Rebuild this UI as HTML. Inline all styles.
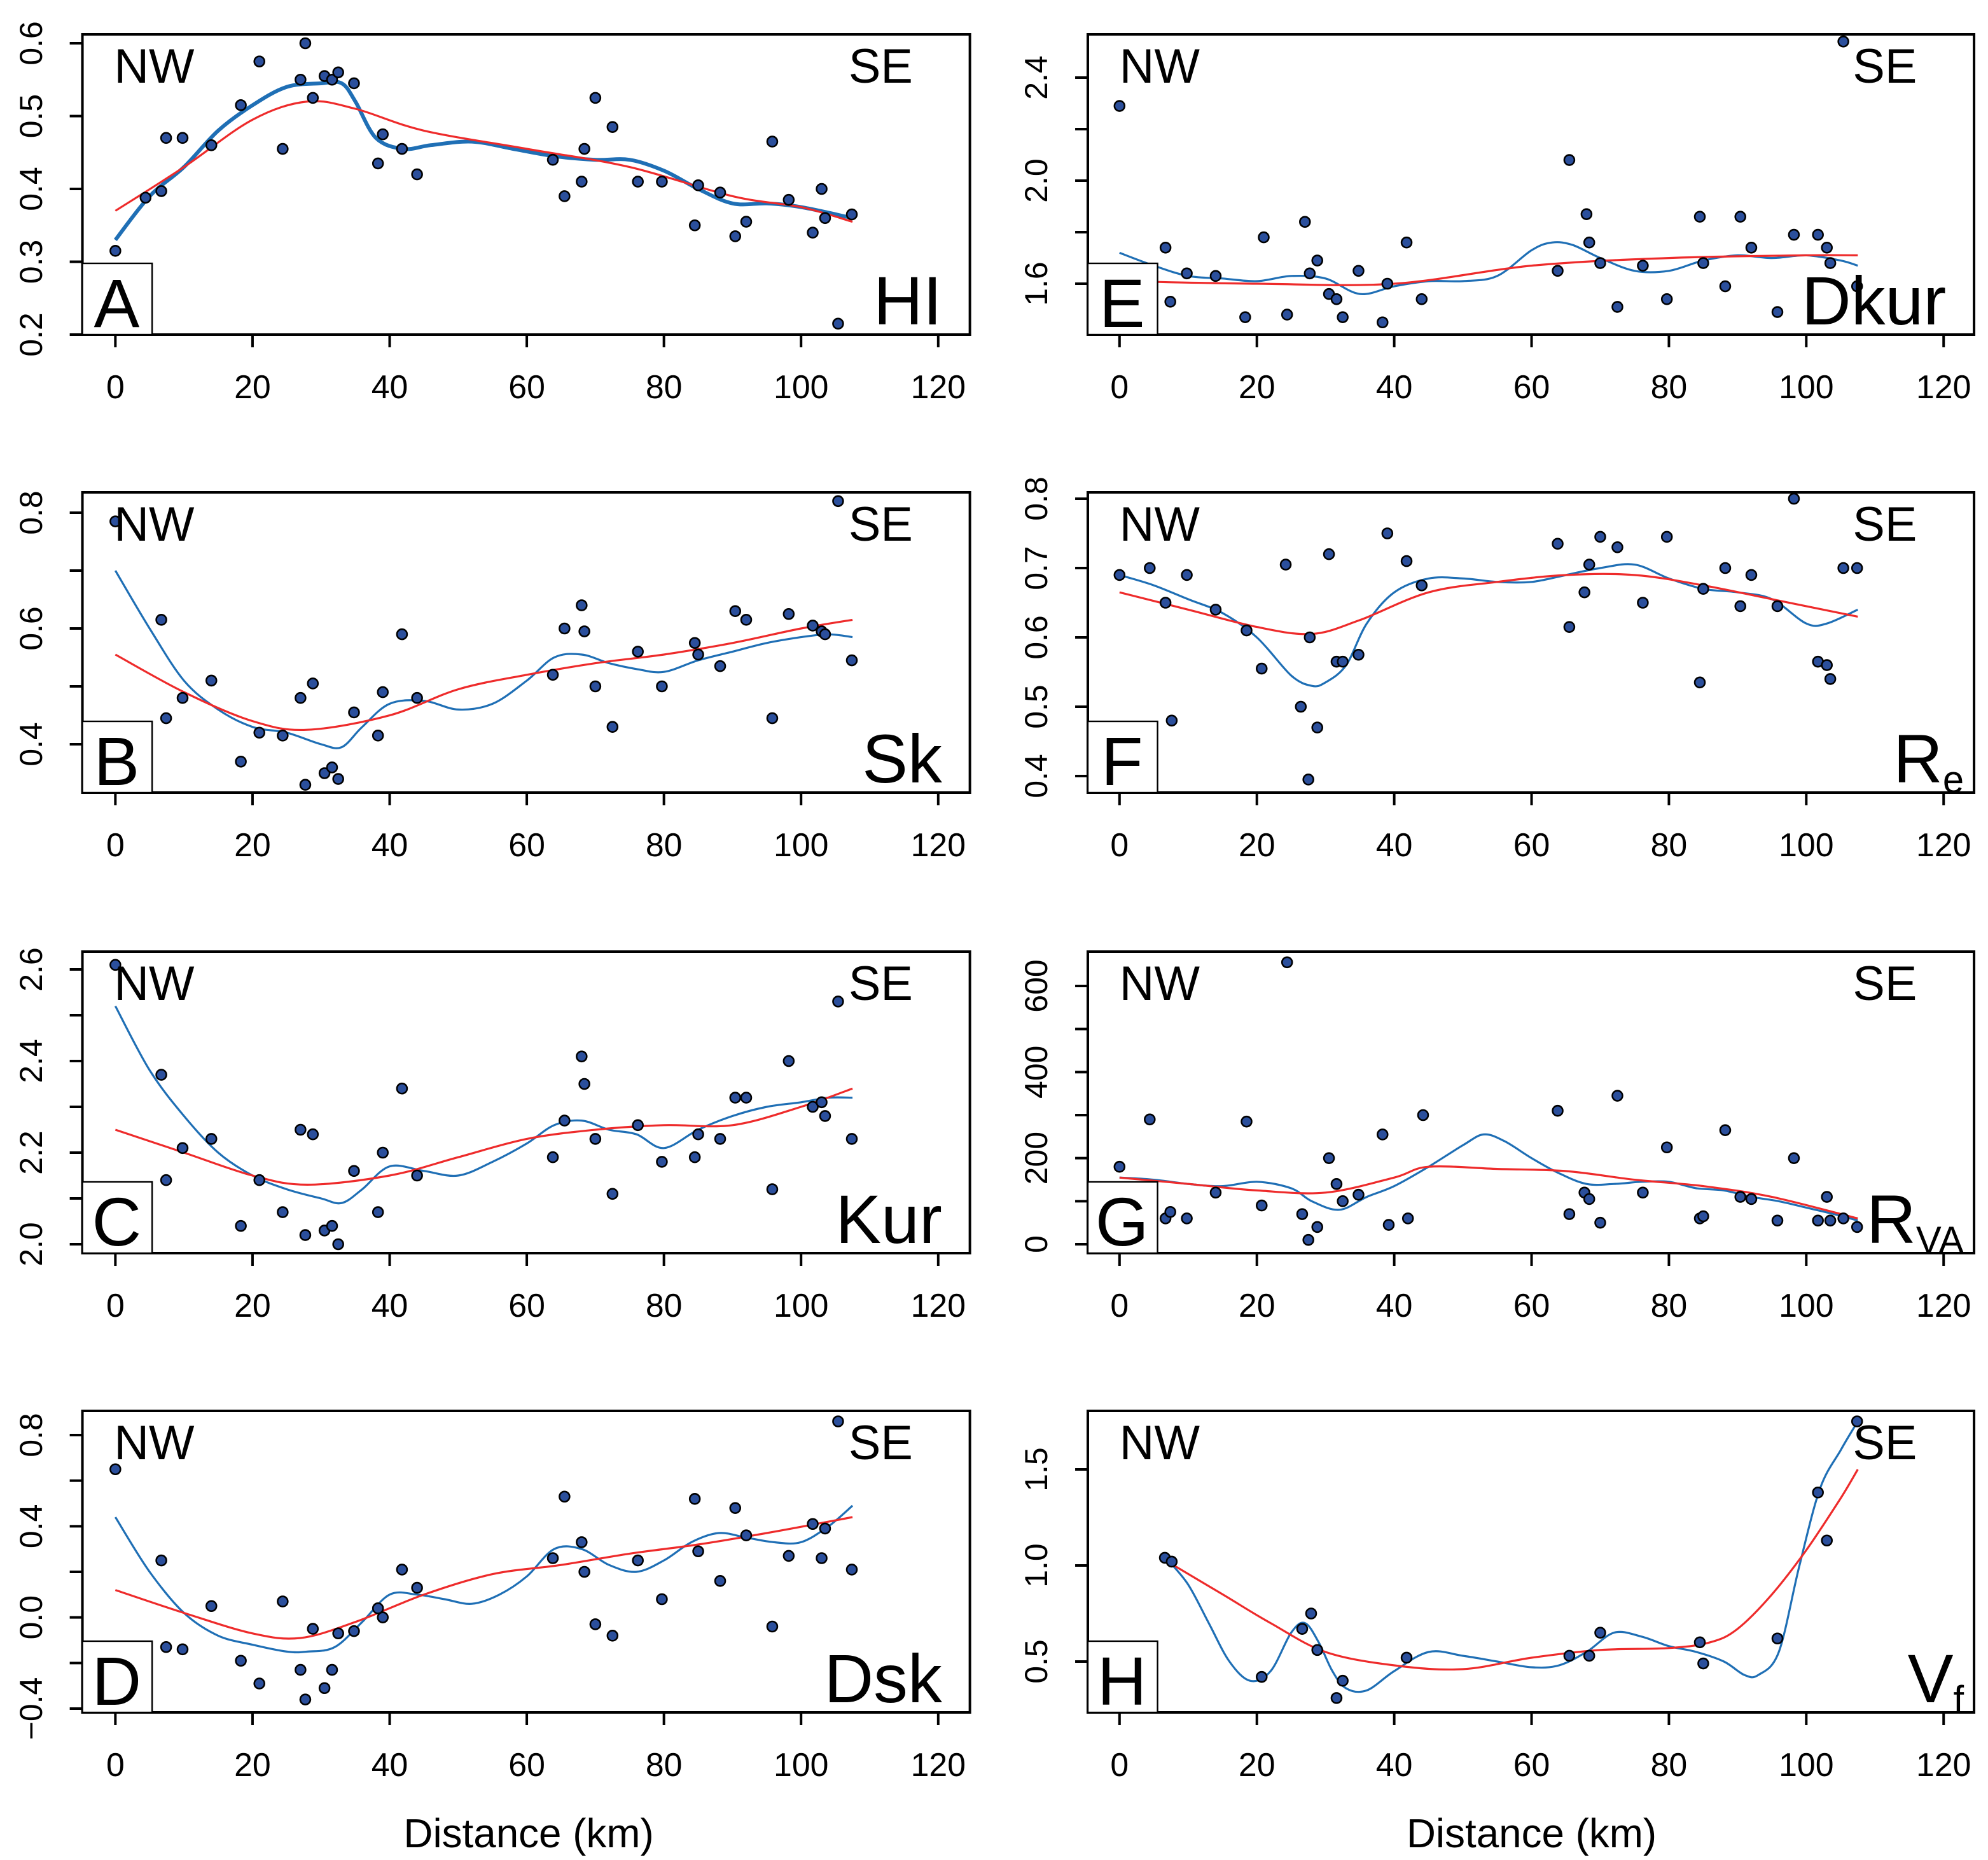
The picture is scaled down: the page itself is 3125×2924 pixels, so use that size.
<!DOCTYPE html>
<html><head><meta charset="utf-8"><style>
html,body{margin:0;padding:0;background:#fff;}
svg{display:block;}
text{font-family:"Liberation Sans",Arial,sans-serif;fill:#000;}
</style></head><body>
<svg id="fig" width="3125" height="2924" viewBox="0 0 1568 1462" preserveAspectRatio="none" xmlns="http://www.w3.org/2000/svg"></svg>
<script>
// ---- data ----
const panelIds=["A","B","C","D","E","F","G","H"];
const panelVars=["HI","Sk","Kur","Dsk","Dkur","Re","RVA","Vf"];
const xTicks=[0,20,40,60,80,100,120];
const xTickLabels=["0","20","40","60","80","100","120"];
const ptsA_x=[0,4.4,6.7,7.4,9.8,14,18.3,21,24.4,27,27.7,28.8,30.5,31.6,32.5,34.8,38.3,39,41.8,44,63.8,65.5,68,68.4,70,72.5,76.2,79.7,84.5,85,88.2,90.4,92,95.8,98.2,101.7,103,103.5,105.4,107.4];
const ptsA_y=[0.315,0.388,0.397,0.47,0.47,0.46,0.515,0.575,0.455,0.55,0.6,0.525,0.555,0.55,0.56,0.545,0.435,0.475,0.455,0.42,0.44,0.39,0.41,0.455,0.525,0.485,0.41,0.41,0.35,0.405,0.395,0.335,0.355,0.465,0.385,0.34,0.4,0.36,0.215,0.365];
const ptsB_y=[0.785,0.41,0.615,0.445,0.48,0.51,0.37,0.42,0.415,0.48,0.33,0.505,0.35,0.36,0.34,0.455,0.415,0.49,0.59,0.48,0.52,0.6,0.64,0.595,0.5,0.43,0.56,0.5,0.575,0.555,0.535,0.63,0.615,0.445,0.625,0.605,0.595,0.59,0.82,0.545];
const ptsC_y=[2.61,2.09,2.37,2.14,2.21,2.23,2.04,2.14,2.07,2.25,2.02,2.24,2.03,2.04,2.0,2.16,2.07,2.2,2.34,2.15,2.19,2.27,2.41,2.35,2.23,2.11,2.26,2.18,2.19,2.24,2.23,2.32,2.32,2.12,2.4,2.3,2.31,2.28,2.53,2.23];
const ptsD_y=[0.65,-0.2,0.25,-0.13,-0.14,0.05,-0.19,-0.29,0.07,-0.23,-0.36,-0.05,-0.31,-0.23,-0.07,-0.06,0.04,0.0,0.21,0.13,0.26,0.53,0.33,0.2,-0.03,-0.08,0.25,0.08,0.52,0.29,0.16,0.48,0.36,-0.04,0.27,0.41,0.26,0.39,0.86,0.21];
const ptsE_y=[2.29,1.53,1.74,1.53,1.64,1.63,1.47,1.78,1.48,1.84,1.64,1.69,1.56,1.54,1.47,1.65,1.45,1.6,1.76,1.54,1.65,2.08,1.87,1.76,1.68,1.51,1.67,1.54,1.86,1.68,1.59,1.86,1.74,1.49,1.79,1.79,1.74,1.68,2.54,1.59];
const ptsF_y=[0.69,0.7,0.65,0.48,0.69,0.64,0.61,0.555,0.705,0.5,0.395,0.47,0.72,0.565,0.565,0.575,0.75,0.71,0.675,0.735,0.615,0.665,0.705,0.745,0.73,0.65,0.745,0.535,0.67,0.7,0.645,0.69,0.645,0.8,0.565,0.56,0.54,0.7,0.7,0.6];
const ptsF_x=[0,4.4,6.7,7.6,9.8,14,18.5,20.7,24.2,26.4,27.5,28.8,30.5,31.6,32.5,34.8,39,41.8,44,63.8,65.5,67.7,68.4,70,72.5,76.2,79.7,84.5,85,88.2,90.4,92,95.8,98.2,101.7,103,103.5,105.4,107.4,27.7];
const ptsG_y=[180,290,60,75,60,120,285,90,655,70,10,40,200,140,100,115,255,45,60,300,310,70,120,105,50,345,120,225,60,65,265,110,105,55,200,55,110,55,60,40];
const ptsG_x=[0,4.4,6.7,7.4,9.8,14,18.5,20.7,24.4,26.6,27.5,28.8,30.5,31.6,32.5,34.8,38.3,39.2,42,44.2,63.8,65.5,67.7,68.4,70,72.5,76.2,79.7,84.5,85,88.2,90.4,92,95.8,98.2,101.7,103,103.5,105.4,107.4];
const ptsH_x=[6.6,7.6,20.7,26.6,27.9,28.8,31.6,32.5,41.8,65.5,68.4,70,84.5,85,95.8,101.7,103,107.4];
const ptsH_y=[1.04,1.02,0.42,0.67,0.75,0.56,0.31,0.4,0.52,0.53,0.53,0.65,0.6,0.49,0.62,1.38,1.13,1.75];

const blueA_x=[0,5,10,15,20,25,30,33,35,38,42,46,52,58,64,70,75,80,85,90,95,100,107.5];
const blueA_y=[0.33,0.39,0.43,0.48,0.515,0.54,0.545,0.545,0.52,0.47,0.455,0.46,0.465,0.455,0.445,0.44,0.44,0.425,0.4,0.38,0.38,0.375,0.36];
const redA_x=[0,10,20,28,35,45,60,75,90,100,107.5];
const redA_y=[0.37,0.43,0.495,0.52,0.51,0.48,0.455,0.43,0.39,0.375,0.355];
const blueB_x=[0,5,10,15,20,25,30,33,36,40,45,50,55,60,64,68,72,76,80,85,90,95,100,104,107.5];
const blueB_y=[0.7,0.6,0.51,0.46,0.43,0.42,0.4,0.395,0.43,0.47,0.475,0.46,0.47,0.51,0.55,0.555,0.54,0.53,0.525,0.545,0.56,0.575,0.585,0.59,0.585];
const redB_x=[0,10,20,28,40,50,60,70,80,90,100,107.5];
const redB_y=[0.555,0.49,0.44,0.425,0.45,0.495,0.52,0.54,0.555,0.575,0.6,0.615];
const blueC_y=[2.52,2.38,2.28,2.2,2.15,2.12,2.1,2.09,2.12,2.17,2.16,2.15,2.18,2.22,2.26,2.27,2.25,2.24,2.21,2.25,2.28,2.3,2.31,2.32,2.32];
const redC_y=[2.25,2.2,2.15,2.13,2.15,2.19,2.23,2.25,2.26,2.26,2.3,2.34];
const blueD_x=[0,5,10,15,20,25,28,32,36,40,44,48,52,56,60,64,68,72,76,80,84,88,92,96,100,104,107.5];
const blueD_y=[0.44,0.2,0.02,-0.08,-0.12,-0.15,-0.15,-0.13,-0.02,0.1,0.1,0.08,0.06,0.1,0.18,0.3,0.3,0.23,0.2,0.25,0.33,0.37,0.35,0.33,0.33,0.4,0.49];
const redD_x=[0,10,20,27,35,45,55,65,75,85,95,107.5];
const redD_y=[0.12,0.02,-0.07,-0.09,-0.02,0.1,0.19,0.23,0.28,0.32,0.37,0.44];
const blueE_x=[0,5,10,15,20,25,30,35,40,45,50,55,60,63,66,70,75,80,85,90,95,100,105,107.5];
const blueE_y=[1.72,1.67,1.63,1.62,1.61,1.63,1.62,1.56,1.59,1.61,1.61,1.63,1.73,1.76,1.75,1.7,1.65,1.65,1.69,1.71,1.7,1.71,1.69,1.67];
const redE_x=[0,20,40,60,80,100,107.5];
const redE_y=[1.61,1.6,1.6,1.67,1.7,1.71,1.71];
const blueF_x=[0,5,10,15,20,25,28,30,33,36,40,45,50,55,60,65,70,75,80,85,90,95,100,103,107.5];
const blueF_y=[0.69,0.675,0.655,0.635,0.6,0.545,0.53,0.535,0.56,0.62,0.665,0.685,0.685,0.68,0.68,0.69,0.7,0.705,0.685,0.67,0.665,0.655,0.62,0.62,0.64];
const redF_x=[0,10,20,28,35,45,55,65,75,85,95,107.5];
const redF_y=[0.665,0.64,0.615,0.605,0.625,0.665,0.68,0.69,0.69,0.675,0.655,0.63];
const blueG_x=[0,5,10,15,20,25,28,32,36,40,45,50,53,56,60,64,68,72,76,80,84,88,92,96,100,104,107.5];
const blueG_y=[155,150,140,135,145,130,100,80,110,135,180,230,255,240,200,165,140,140,145,145,130,125,110,100,85,70,55];
const redG_x=[0,10,20,30,40,45,55,65,75,85,95,107.5];
const redG_y=[155,140,125,120,155,180,175,170,150,135,110,60];
const blueH_x=[7,10,13,16,19,22,25,27,29,31,33,36,40,45,50,55,60,64,68,72,76,80,84,88,91,93,96,99,102,105,107.5];
const blueH_y=[1.03,0.9,0.7,0.5,0.4,0.45,0.65,0.7,0.6,0.45,0.36,0.35,0.45,0.55,0.53,0.5,0.47,0.48,0.55,0.65,0.63,0.58,0.55,0.5,0.43,0.43,0.55,1.0,1.4,1.6,1.75];
const redH_x=[7,15,22,30,40,50,60,70,80,86,90,95,100,105,107.5];
const redH_y=[1.02,0.85,0.7,0.55,0.48,0.46,0.52,0.56,0.57,0.6,0.67,0.85,1.08,1.35,1.5];

const yTicksA=[0.2,0.3,0.4,0.5,0.6], yLabA=["0.2","0.3","0.4","0.5","0.6"];
const yTicksB=[0.4,0.5,0.6,0.7,0.8], yLabB=["0.4","","0.6","","0.8"];
const yTicksC=[2.0,2.1,2.2,2.3,2.4,2.5,2.6], yLabC=["2.0","","2.2","","2.4","","2.6"];
const yTicksD=[-0.4,-0.2,0,0.2,0.4,0.6,0.8], yLabD=["\u22120.4","","0.0","","0.4","","0.8"];
const yTicksE=[1.6,1.8,2.0,2.2,2.4], yLabE=["1.6","","2.0","","2.4"];
const yTicksF=[0.4,0.5,0.6,0.7,0.8], yLabF=["0.4","0.5","0.6","0.7","0.8"];
const yTicksG=[0,100,200,300,400,500,600], yLabG=["0","","200","","400","","600"];
const yTicksH=[0.5,1.0,1.5], yLabH=["0.5","1.0","1.5"];

// ---- layout (not data) ----
const NS="http://www.w3.org/2000/svg";
const svg=document.getElementById('fig');
function el(tag,attrs,parent){const e=document.createElementNS(NS,tag);for(const k in attrs)e.setAttribute(k,attrs[k]);(parent||svg).appendChild(e);return e;}
const cols=[{x0:65,x1:765,k0:91,k120:740},{x0:858,x1:1557,k0:883,k120:1533}];
const rows=[{y0:27,y1:263},{y0:387,y1:623},{y0:748,y1:985},{y0:1109,y1:1346}];
const panels=[
 {c:0,r:0,px:ptsA_x,py:ptsA_y,bx:blueA_x,by:blueA_y,rx:redA_x,ry:redA_y,yt:yTicksA,yl:yLabA,cal:[0.6,34,0.2,263],bw:3},
 {c:0,r:1,px:ptsA_x,py:ptsB_y,bx:blueB_x,by:blueB_y,rx:redB_x,ry:redB_y,yt:yTicksB,yl:yLabB,cal:[0.8,403,0.4,585],bw:1.6},
 {c:0,r:2,px:ptsA_x,py:ptsC_y,bx:blueB_x,by:blueC_y,rx:redB_x,ry:redC_y,yt:yTicksC,yl:yLabC,cal:[2.6,762,2.0,978],bw:1.6},
 {c:0,r:3,px:ptsA_x,py:ptsD_y,bx:blueD_x,by:blueD_y,rx:redD_x,ry:redD_y,yt:yTicksD,yl:yLabD,cal:[0.8,1128,-0.4,1343],bw:1.6},
 {c:1,r:0,px:ptsA_x,py:ptsE_y,bx:blueE_x,by:blueE_y,rx:redE_x,ry:redE_y,yt:yTicksE,yl:yLabE,cal:[2.4,61,1.6,223],bw:1.6},
 {c:1,r:1,px:ptsF_x,py:ptsF_y,bx:blueF_x,by:blueF_y,rx:redF_x,ry:redF_y,yt:yTicksF,yl:yLabF,cal:[0.8,392,0.4,610],bw:1.6},
 {c:1,r:2,px:ptsG_x,py:ptsG_y,bx:blueG_x,by:blueG_y,rx:redG_x,ry:redG_y,yt:yTicksG,yl:yLabG,cal:[600,775,0,978],bw:1.6},
 {c:1,r:3,px:ptsH_x,py:ptsH_y,bx:blueH_x,by:blueH_y,rx:redH_x,ry:redH_y,yt:yTicksH,yl:yLabH,cal:[1.5,1155,0.5,1306],bw:1.6}
];
const subs={Re:"e",RVA:"VA",Vf:"f"};

function smoothPath(P){
 let d='M'+P[0][0].toFixed(1)+','+P[0][1].toFixed(1);
 for(let i=0;i<P.length-1;i++){
  const p0=P[Math.max(0,i-1)],p1=P[i],p2=P[i+1],p3=P[Math.min(P.length-1,i+2)];
  const c1=[p1[0]+(p2[0]-p0[0])/6,p1[1]+(p2[1]-p0[1])/6];
  const c2=[p2[0]-(p3[0]-p1[0])/6,p2[1]-(p3[1]-p1[1])/6];
  d+='C'+c1[0].toFixed(1)+','+c1[1].toFixed(1)+' '+c2[0].toFixed(1)+','+c2[1].toFixed(1)+' '+p2[0].toFixed(1)+','+p2[1].toFixed(1);
 }
 return d;
}

panels.forEach((p,i)=>{
 const C=cols[p.c],R=rows[p.r];
 const g=el('g',{});
 
 
 const xs=v=>C.k0+(C.k120-C.k0)*v/120;
 const ys=v=>p.cal[1]+(p.cal[3]-p.cal[1])*(v-p.cal[0])/(p.cal[2]-p.cal[0]);
 const box=el('rect',{x:C.x0,y:R.y0,width:C.x1-C.x0,height:R.y1-R.y0,fill:'none',stroke:'#000','stroke-width':2},g);
 
 const xa=el('g',{},g);
 el('line',{x1:xs(xTicks[0]),x2:xs(xTicks[xTicks.length-1]),y1:R.y1,y2:R.y1,stroke:'#000','stroke-width':2},xa);
 xTicks.forEach((t,j)=>{
  el('line',{x1:xs(t),x2:xs(t),y1:R.y1,y2:R.y1+10,stroke:'#000','stroke-width':2},xa);
  const tx=el('text',{x:xs(t),y:R.y1+50,'font-size':26,'text-anchor':'middle'},xa);tx.textContent=xTickLabels[j];
  
 });
 const ya=el('g',{},g);
 el('line',{x1:C.x0,x2:C.x0,y1:ys(p.yt[0]),y2:ys(p.yt[p.yt.length-1]),stroke:'#000','stroke-width':2},ya);
 const lx=C.x0-32;
 p.yt.forEach((t,j)=>{
  el('line',{x1:C.x0-10,x2:C.x0,y1:ys(t),y2:ys(t),stroke:'#000','stroke-width':2},ya);
  if(p.yl[j]){const tx=el('text',{x:lx,y:ys(t),'font-size':25,'text-anchor':'middle',transform:`rotate(-90 ${lx} ${ys(t)})`},ya);tx.textContent=p.yl[j];
  }
 });
 const line=(X,Y,col,w,name)=>{const P=X.map((x,k)=>[xs(x),ys(Y[k])]);
  const pa=el('path',{d:smoothPath(P),fill:'none',stroke:col,'stroke-width':w,'stroke-linejoin':'round'},g);
  };
 line(p.bx,p.by,'#1f6fb5',p.bw,'loess-curve-blue');
 line(p.rx,p.ry,'#ee2b2b',1.6,'smooth-curve-red');
 p.px.forEach((x,k)=>{const c=el('circle',{cx:xs(x),cy:ys(p.py[k]),r:4,fill:'#2b4f9c',stroke:'#000','stroke-width':1.3},g);
  });
 const nw=el('text',{x:C.x0+25,y:R.y0+38,'font-size':38},g);nw.textContent='NW';
 const se=el('text',{x:C.x1-45,y:R.y0+38,'font-size':38,'text-anchor':'end'},g);se.textContent='SE';
 const lb=el('rect',{x:C.x0,y:R.y1-56,width:55,height:56,fill:'#fff',stroke:'#000','stroke-width':1.2},g);
 
 const lt=el('text',{x:C.x0+27,y:R.y1-6,'font-size':54,'text-anchor':'middle'},g);lt.textContent=panelIds[i];
 
 const v=panelVars[i];
 const vt=el('text',{x:C.x1-(subs[v]?8:22),y:R.y1-8,'font-size':54,'text-anchor':'end'},g);
 
 if(subs[v]){vt.textContent=v[0];const ts=el('tspan',{'font-size':30,dy:8},vt);ts.textContent=subs[v];}
 else vt.textContent=v;
});
[["Distance (km)",417],["Distance (km)",1208]].forEach(([t,x])=>{
 const tx=el('text',{x:x,y:1452,'font-size':32,'text-anchor':'middle'});tx.textContent=t;
 
});
</script>
</body></html>
